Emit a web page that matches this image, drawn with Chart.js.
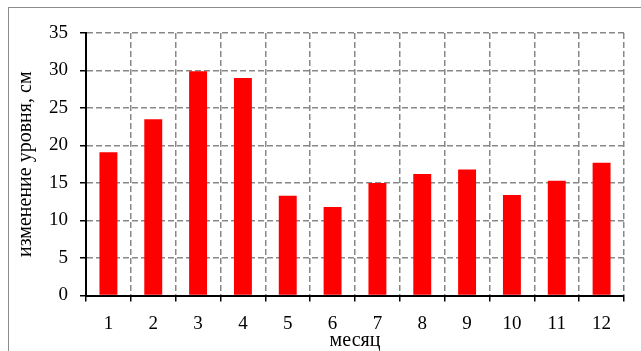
<!DOCTYPE html>
<html>
<head>
<meta charset="utf-8">
<script src="https://cdn.jsdelivr.net/npm/chart.js@4"></script>
<style>
  body { margin: 0; background: #fff; }
  #wrap { position: relative; width: 641px; height: 351px; overflow: hidden; }
  #frame { position: absolute; left: 8px; top: 7px; width: 700px; height: 400px;
           border-top: 1.5px solid #8c8c8c; border-left: 1.5px solid #8c8c8c; }
  canvas { position: absolute; left: 0; top: 0; }
</style>
</head>
<body>
<div id="wrap">
  <div id="frame"></div>
  <canvas id="chart" width="641" height="351"></canvas>
</div>
<script>
// месяцы и изменение уровня, см
const months = ['1', '2', '3', '4', '5', '6', '7', '8', '9', '10', '11', '12'];
const levelChange = [19.1, 23.5, 29.9, 29.0, 13.3, 11.8, 15.0, 16.2, 16.8, 13.4, 15.3, 17.7];
const yMin = 0, yMax = 35, yStep = 5;

const serif = "'Liberation Serif', 'Times New Roman', serif";

new Chart(document.getElementById('chart'), {
    type: 'bar',
    data: {
        labels: months,
        datasets: [{
            data: levelChange,
            backgroundColor: '#ff0000',
            borderWidth: 0,
            barPercentage: 0.4,
            categoryPercentage: 1
        }]
    },
    options: {
        responsive: false,
        animation: false,
        layout: { padding: { top: 33, right: 17, left: 0, bottom: 0 } },
        plugins: { legend: { display: false }, tooltip: { enabled: false } },
        scales: {
            x: {
                afterFit: (scale) => { scale.height = 55.5; },
                grid: {
                    color: '#888', lineWidth: 1.5, offset: true,
                    tickColor: '#000', tickLength: 6, tickWidth: 1.5, tickBorderDash: []
                },
                border: { color: '#000', width: 2, dash: [6, 3] },
                ticks: { color: '#000', padding: 11, font: { family: serif, size: 19 } },
                title: {
                    display: true, text: 'месяц', color: '#000',
                    font: { family: serif, size: 20, lineHeight: 1 },
                    padding: { top: 0, bottom: 0 }
                }
            },
            y: {
                min: yMin, max: yMax,
                afterFit: (scale) => { scale.width = 86; },
                grid: {
                    color: '#888', lineWidth: 1.5,
                    tickColor: '#000', tickLength: 6, tickWidth: 1.5, tickBorderDash: []
                },
                border: { color: '#000', width: 2, dash: [6, 3] },
                ticks: { stepSize: yStep, color: '#000', padding: 12, font: { family: serif, size: 19 } },
                title: {
                    display: true, text: 'изменение уровня, см', color: '#000',
                    font: { family: serif, size: 20, lineHeight: 1 },
                    padding: { top: 16, bottom: 0 }
                }
            }
        }
    }
});
</script>
</body>
</html>
